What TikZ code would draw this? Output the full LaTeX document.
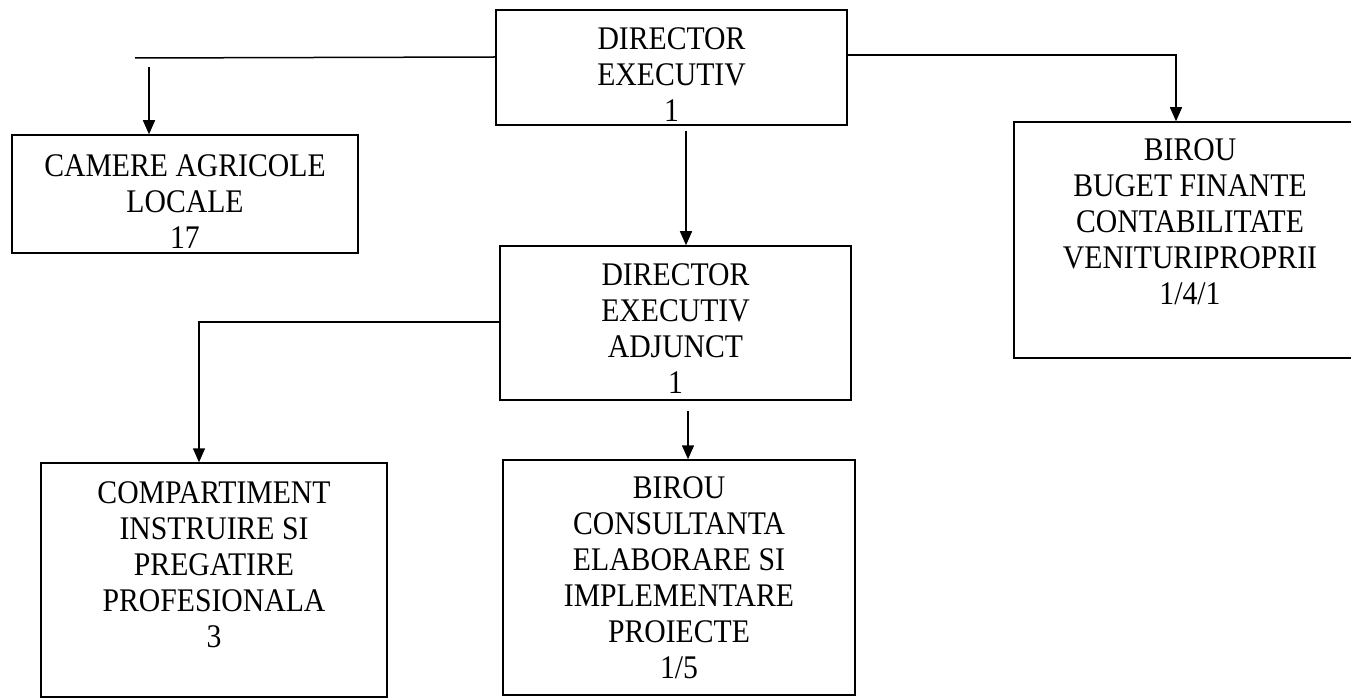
\documentclass[tikz,border=0pt]{standalone}
\usepackage{fontspec}
\setmainfont{Liberation Serif}[FakeStretch=0.9]
\usetikzlibrary{arrows.meta}
\begin{document}
\begin{tikzpicture}[x=1pt,y=-1pt,
  box/.style={draw,line width=1.5pt,rectangle,align=center,inner sep=0pt,
    font=\fontsize{33}{36}\selectfont},
  conn/.style={line width=1.5pt},
  arr/.style={line width=1.5pt,-{Triangle[width=12pt,length=14pt]}}]
\useasboundingbox (0,0) rectangle (1351,700);
\clip (0,0) rectangle (1351,700);
\node[box,minimum width=351pt,minimum height=115pt] (dir) at (671.5,67.5) {\mbox{}\\DIRECTOR\\EXECUTIV\\1};
\node[box,minimum width=346pt,minimum height=118pt] (cam) at (185,194) {\mbox{}\\[2pt]CAMERE AGRICOLE\\LOCALE\\17};
\node[box,minimum width=352pt,minimum height=236pt] (bir) at (1190,240) {BIROU\\BUGET FINANTE\\CONTABILITATE\\VENITURIPROPRII\\1/4/1\\[0pt]\mbox{}};
\node[box,minimum width=351pt,minimum height=154pt] (adj) at (675.5,323) {\mbox{}\\[-4pt]DIRECTOR\\EXECUTIV\\ADJUNCT\\1};
\node[box,minimum width=346pt,minimum height=234pt] (comp) at (214,580) {COMPARTIMENT\\INSTRUIRE SI\\PREGATIRE\\PROFESIONALA\\3\\[-6pt]\mbox{}};
\node[box,minimum width=352pt,minimum height=235pt] (cons) at (679,577.5) {BIROU\\CONSULTANTA\\ELABORARE SI\\IMPLEMENTARE\\PROIECTE\\1/5};
% left branch
\coordinate (lw) at (dir.west |- 0,57);
\coordinate (lend) at (135,58);
\coordinate (lstart) at (149,67);
\draw[conn] (lw) -- (lend);
\draw[arr] (lstart) -- (lstart |- cam.north);
% right branch
\coordinate (re) at (dir.east |- 0,55);
\coordinate (rc) at (1176,55);
\draw[arr] (re) -- (rc) -- (rc |- bir.north);
% director to adjunct
\coordinate (d1) at (686,131);
\draw[arr] (d1) -- (d1 |- adj.north);
% adjunct left branch
\coordinate (aw) at (adj.west |- 0,322);
\coordinate (ac) at (199,322);
\draw[arr] (aw) -- (ac) -- (ac |- comp.north);
% adjunct to consultanta
\coordinate (a1) at (688,411);
\draw[arr] (a1) -- (a1 |- cons.north);
\end{tikzpicture}
\end{document}
